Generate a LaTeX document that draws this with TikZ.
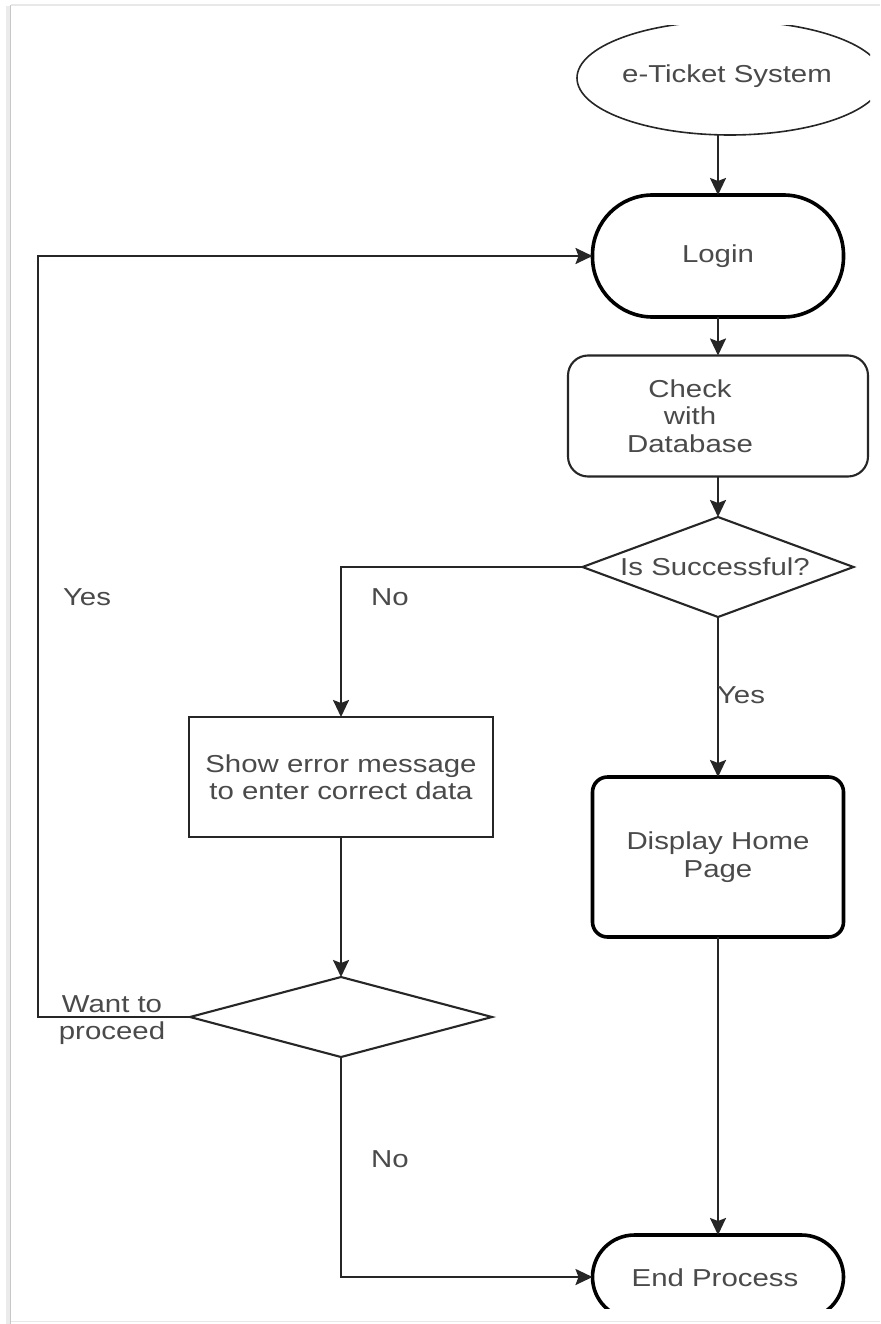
\documentclass[tikz,border=0pt]{standalone}
\usepackage{graphicx}
\usepackage{fontspec}
\setmainfont{Liberation Sans}
\usetikzlibrary{shapes.geometric,arrows.meta,calc}
\definecolor{txtgray}{HTML}{4A4A4A}
\definecolor{linegray}{HTML}{262626}
\newcommand{\tx}[1]{\scalebox{1.2}[1]{#1}}
\tikzset{
  every node/.style={text=txtgray, font=\fontsize{24.5}{27.5}\selectfont},
  thinshape/.style={draw=linegray, line width=2.1pt, fill=white, inner sep=0pt, outer sep=0pt},
  thickshape/.style={draw=black, line width=3.6pt, fill=white, inner sep=0pt, outer sep=0pt},
  conn/.style={draw=linegray, line width=2.2pt, -{Stealth[length=17pt,width=16pt,inset=3pt]}},
  lbl/.style={anchor=base, inner sep=0pt}
}
\begin{document}
\begin{tikzpicture}[x=1pt,y=-1pt]
\useasboundingbox (0,0) rectangle (880,1324);
\fill[white] (0,0) rectangle (880,1324);
% page frame / shadow
\draw[color=black!8, line width=4pt] (8,6) -- (8,1324);
\draw[color=black!22, line width=1.6pt] (10.5,5) -- (10.5,1324);
\draw[color=black!9, line width=1.5pt] (10.5,5) -- (880,5);
\draw[color=black!9, line width=1.5pt] (10.5,1321.5) -- (880,1321.5);

% start ellipse (clipped like the screenshot)
\begin{scope}
  \clip (0,26) rectangle (870,1324);
  \node[ellipse, thinshape, line width=1.6pt, minimum width=306pt, minimum height=114pt] (et) at (730,78) {};
\end{scope}
\node at (727,76) {\tx{e-Ticket System}};

% login
\node[thickshape, rounded corners=60pt, minimum width=251pt, minimum height=122pt] (login) at (718,256) {\tx{Login}};

% check with database
\node[thinshape, rounded corners=20pt, minimum width=300pt, minimum height=121pt] (check) at (718,416) {};
\node[align=center] (checkt) at (690,416) {\tx{Check}\\\tx{with}\\\tx{Database}};

% decision 1
\node[diamond, thinshape, minimum width=271pt, minimum height=100pt] (ss) at (718,567) {};
\node at (715,567) {\tx{Is Successful?}};

% error box
\node[thinshape, minimum width=304pt, minimum height=120pt, align=center] (err) at (341,777) {\tx{Show error message}\\\tx{to enter correct data}};

% display home page
\node[thickshape, rounded corners=15pt, minimum width=251pt, minimum height=160pt, align=center] (disp) at (718,857) {\tx{Display Home}\\\tx{Page}};

% decision 2
\node[diamond, thinshape, minimum width=302pt, minimum height=80pt] (d2) at (341,1017) {};

% end process (clipped at the bottom)
\begin{scope}
  \clip (0,0) rectangle (880,1308);
  \node[thickshape, rounded corners=42pt, minimum width=251pt, minimum height=84pt] (endp) at (718,1277) {};
\end{scope}
\node at (715,1278) {\tx{End Process}};

% loop corner
\coordinate (lx) at (38,0);

% connectors
\draw[conn] (login.north |- et.south) -- (login.north);
\draw[conn] (login.south) -- (check.north);
\draw[conn] (check.south) -- (ss.north);
\draw[conn] (ss.west) -| (err.north);
\draw[conn] (ss.south) -- (disp.north);
\draw[conn] (disp.south) -- (endp.north);
\draw[conn] (err.south) -- (d2.north);
\draw[conn] (d2.west) -- (d2.west -| lx) |- (login.west);
\draw[conn] (d2.south) |- (endp.west);

% labels
\node[lbl] (yesl) at (87,605) {\tx{Yes}};
\node[lbl] (no1) at (390,605) {\tx{No}};
\node[lbl] (yesr) at (741,703) {\tx{Yes}};
\node[lbl] (no2) at (390,1167) {\tx{No}};
\node[align=center] (want) at (112,1020) {\tx{Want to}\\\tx{proceed}};
\end{tikzpicture}
\end{document}
